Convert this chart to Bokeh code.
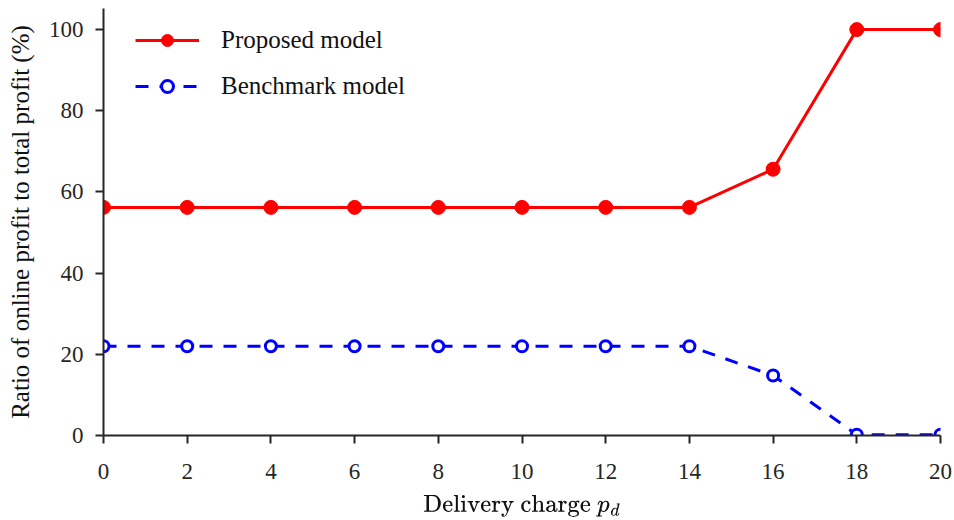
from bokeh.plotting import figure
from bokeh.models import Range1d, FixedTicker, Legend, LegendItem
from bokeh.embed import file_html
from bokeh.resources import INLINE

delivery_charge = [0, 2, 4, 6, 8, 10, 12, 14, 16, 18, 20]
proposed = [56.2, 56.2, 56.2, 56.2, 56.2, 56.2, 56.2, 56.2, 65.6, 100, 100]
benchmark = [22.0, 22.0, 22.0, 22.0, 22.0, 22.0, 22.0, 22.0, 14.8, 0.2, 0.2]
x_ticks = [0, 2, 4, 6, 8, 10, 12, 14, 16, 18, 20]
y_ticks = [0, 20, 40, 60, 80, 100]

FONT = "Liberation Serif"
AX = "#262626"

p = figure(frame_width=837, frame_height=427, output_backend="svg", toolbar_location=None,
           x_range=Range1d(0, 20), y_range=Range1d(0, 105.2),
           min_border_left=103, min_border_right=14, min_border_top=8, min_border_bottom=84)
p.outline_line_color = None
p.xgrid.visible = False
p.ygrid.visible = False
p.background_fill_color = "white"
p.border_fill_color = "white"

for ax in (p.xaxis[0], p.yaxis[0]):
    ax.axis_line_color = AX
    ax.axis_line_width = 2
    ax.major_tick_line_color = AX
    ax.major_tick_line_width = 2
    ax.major_tick_out = 8
    ax.major_tick_in = 0
    ax.minor_tick_line_color = None
    ax.major_label_text_font = FONT
    ax.major_label_text_font_size = "23px"
    ax.major_label_text_color = AX
    ax.axis_label_text_font = FONT
    ax.axis_label_text_font_style = "normal"
    ax.axis_label_text_color = "#111111"

p.xaxis.axis_label_text_font_size = "24px"
p.yaxis.axis_label_text_font_size = "25px"
p.xaxis.ticker = FixedTicker(ticks=x_ticks)
p.yaxis.ticker = FixedTicker(ticks=y_ticks)
p.xaxis.major_label_standoff = 20
p.yaxis.major_label_standoff = 12
p.xaxis.axis_label = r"Delivery charge \(p_d\)"
p.yaxis.axis_label = "Ratio of online profit to total profit (%)"
p.xaxis.axis_label_standoff = 13
p.yaxis.axis_label_standoff = 12

r1 = p.line(delivery_charge, proposed, line_color="#ff0000", line_width=3)
r1m = p.scatter(delivery_charge, proposed, marker="circle", size=14,
                fill_color="#ff0000", line_color="#ff0000")
r2 = p.line(delivery_charge, benchmark, line_color="#0000ff", line_width=3, line_dash="13 11")
r2m = p.scatter(delivery_charge, benchmark, marker="circle", size=11,
                fill_color="white", line_color="#0000ff", line_width=3)

legend = Legend(items=[LegendItem(label="Proposed model", renderers=[r1, r1m]),
                       LegendItem(label="Benchmark model", renderers=[r2, r2m])],
                location=(32, 334))
legend.border_line_color = None
legend.background_fill_alpha = 0
legend.label_text_font = FONT
legend.label_text_font_size = "25px"
legend.label_text_color = "#111111"
legend.glyph_width = 64
legend.glyph_height = 30
legend.label_height = 30
legend.spacing = 16
legend.label_standoff = 22
legend.margin = 0
legend.padding = 0
p.add_layout(legend)

open("out.html", "w").write(file_html(p, INLINE))
